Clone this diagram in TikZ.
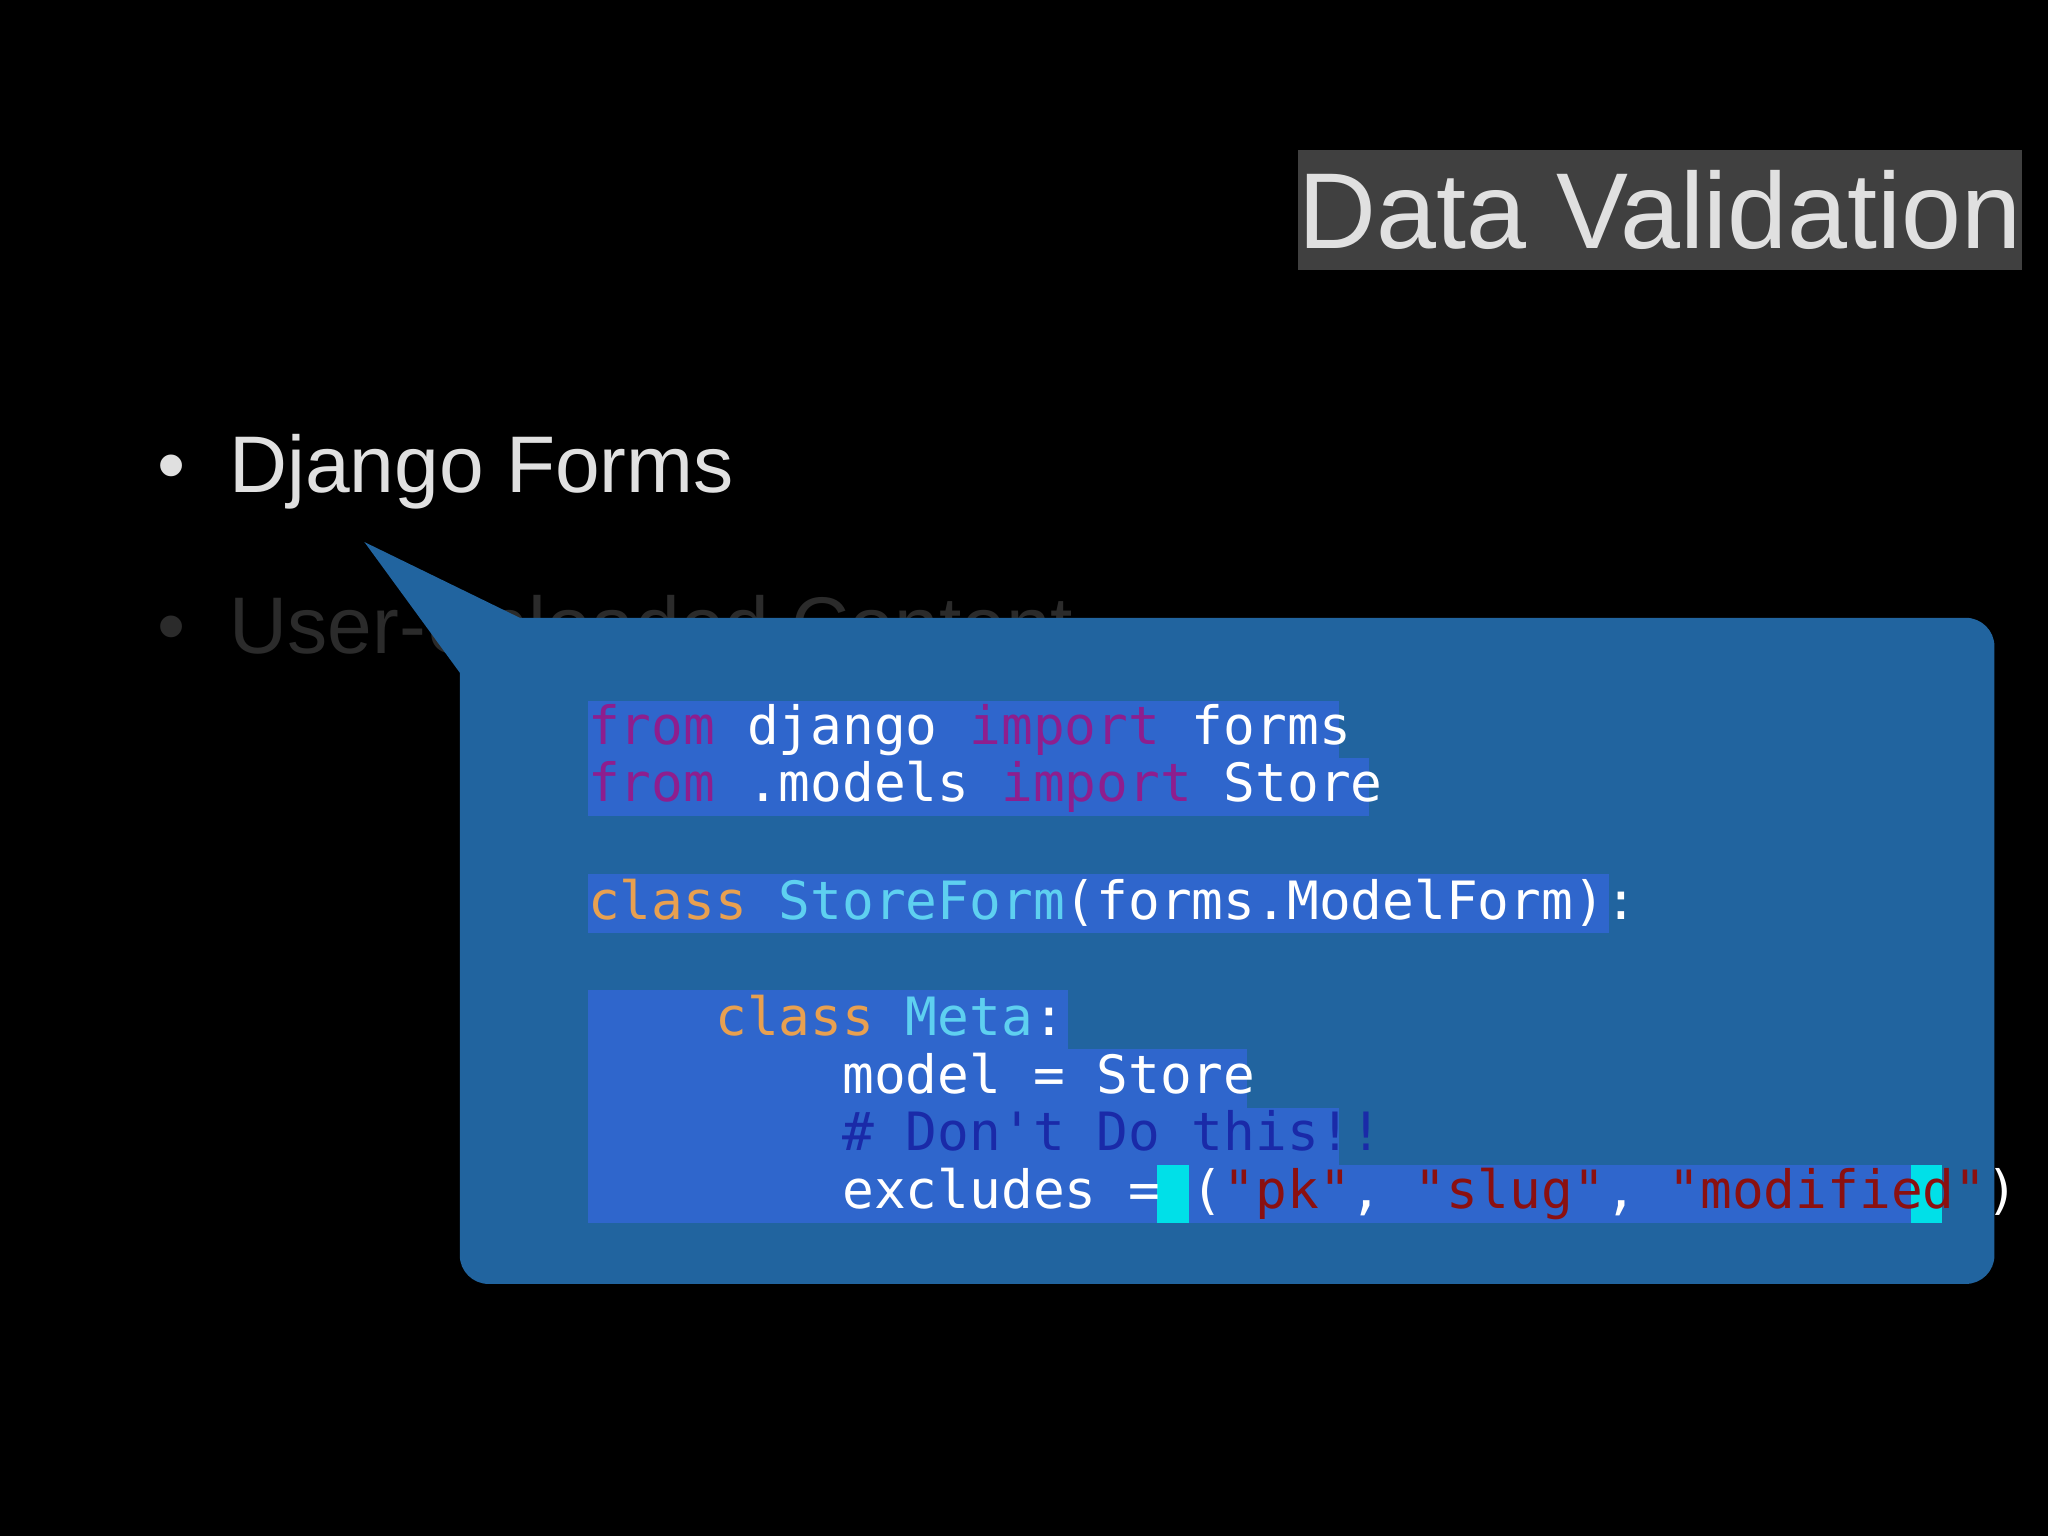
\documentclass[tikz,border=0pt]{standalone}
\usepackage{fontspec}
\setmainfont{Liberation Sans}
\setmonofont{DejaVu Sans Mono}
\definecolor{bub}{HTML}{21649F}
\definecolor{hl}{HTML}{2F66CC}
\definecolor{kw}{HTML}{8E1E8E}
\definecolor{cls}{HTML}{E8A050}
\definecolor{nm}{HTML}{5ED0F0}
\definecolor{cm}{HTML}{1A2AA8}
\definecolor{st}{HTML}{8B1010}
\definecolor{cy}{HTML}{00E0E8}
\tikzset{code/.style={anchor=base west,inner sep=0pt,text=white,font=\ttfamily\fontsize{23}{23}\selectfont}}
\begin{document}
\begin{tikzpicture}[x=0.02cm,y=-0.02cm]
\fill[black] (0,0) rectangle (1568,1176);
\useasboundingbox (0,0) rectangle (1568,1176);
\node[fill=black!75,text=black!12,inner sep=0pt,minimum width=514*0.02cm,minimum height=92*0.02cm,font=\fontsize{47}{47}\selectfont] (title) at (1271,161) {Data Validation};
\node[anchor=base west,text=black!12,inner sep=0pt,font=\fontsize{35}{35}\selectfont] (b1) at (120,377) {•\hspace{0.55em}Django Forms};
\node[anchor=base west,text=black!83,inner sep=0pt,font=\fontsize{35}{35}\selectfont] (b2) at (120,500) {•\hspace{0.55em}User-Uploaded Content};
\fill[bub,rounded corners=22*0.02cm] (352,473) rectangle (1527,983);
\fill[bub] (279,415) -- (400,474) -- (352,515) -- cycle;
\fill[hl] (450,537) rectangle (1025,580);
\fill[hl] (450,580) rectangle (1048,625);
\fill[hl] (450,669) rectangle (1232,714);
\fill[hl] (450,758) rectangle (818,803);
\fill[hl] (450,803) rectangle (955,848);
\fill[hl] (450,848) rectangle (1025,892);
\fill[hl] (450,892) rectangle (1487,936);
\fill[cy] (886,892) rectangle (910,936);
\fill[cy] (1463,892) rectangle (1487,936);
\node[code] (l1) at (450,570) {\textcolor{kw}{from} django \textcolor{kw}{import} forms};
\node[code] (l2) at (450,614) {\textcolor{kw}{from} .models \textcolor{kw}{import} Store};
\node[code] (l3) at (450,704) {\textcolor{cls}{class} \textcolor{nm}{StoreForm}(forms.ModelForm):};
\node[code] (l4) at (450,793) {\phantom{xxxx}\textcolor{cls}{class} \textcolor{nm}{Meta}:};
\node[code] (l5) at (450,837) {\phantom{xxxxxxxx}model = Store};
\node[code] (l6) at (450,881) {\phantom{xxxxxxxx}\textcolor{cm}{\# Don't Do this!!}};
\node[code] (l7) at (450,925) {\phantom{xxxxxxxx}excludes = (\textcolor{st}{"pk"}, \textcolor{st}{"slug"}, \textcolor{st}{"modified"})};
\end{tikzpicture}
\end{document}
